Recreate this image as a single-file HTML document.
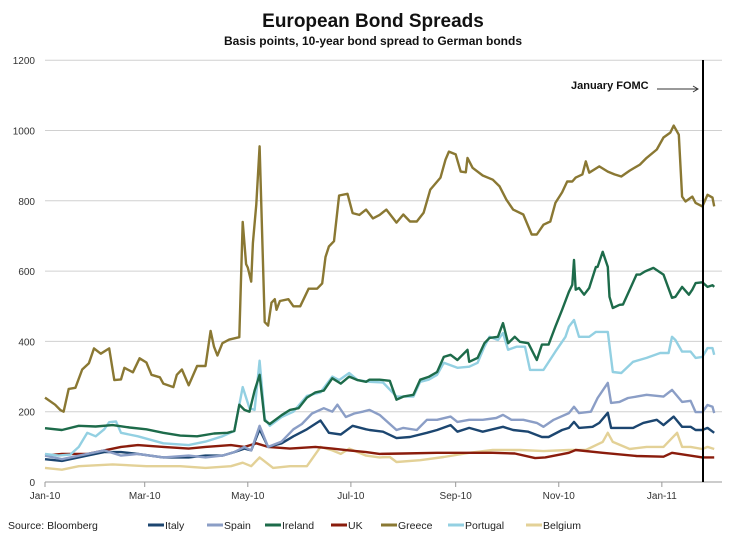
<!DOCTYPE html>
<html><head><meta charset="utf-8"><style>
html,body{margin:0;padding:0;background:#fff;}
svg{display:block;font-family:"Liberation Sans",sans-serif;}
</style></head><body>
<svg id="chart" width="747" height="543" viewBox="0 0 747 543">
<text x="373" y="27" text-anchor="middle" font-size="19" font-weight="bold" fill="#111">European Bond Spreads</text>
<text x="373" y="45" text-anchor="middle" font-size="12" font-weight="bold" fill="#111">Basis points, 10-year bond spread to German bonds</text>
<g id="grid"></g>
<g id="yticks"></g>
<g id="xticks"></g>
<g id="series"></g>
<line x1="703" y1="60" x2="703" y2="482" stroke="#000" stroke-width="2"/>
<text x="571" y="89" font-size="11" font-weight="bold" fill="#111">January FOMC</text>
<g><line x1="657" y1="89" x2="698" y2="89" stroke="#333" stroke-width="1"/><path d="M693,86 L698,89 L693,92" fill="none" stroke="#333" stroke-width="1"/></g>
<text x="8" y="529" font-size="10.5" fill="#222">Source: Bloomberg</text>
<g id="legend"></g>
</svg>
<script>
const yTicks=[0,200,400,600,800,1000,1200];
const xTickLabels=["Jan-10","Mar-10","May-10","Jul-10","Sep-10","Nov-10","Jan-11"];
const xTickDays=[0,59,120,181,243,304,365];

const greeceDays=[0,6,9,11,14,18,22,26,29,33,38,41,45,47,52,56,60,63,68,70,76,78,81,85,90,95,98,100,102,105,109,115,117,119,120,122,123,125,127,130,132,134,136,137,139,144,147,151,154,156,161,164,166,168,171,174,179,182,186,190,194,198,202,208,212,216,220,224,228,234,237,239,243,246,249,250,253,259,265,269,273,277,283,288,291,295,299,302,306,309,312,314,318,320,322,328,333,337,341,346,352,356,362,366,370,372,375,377,379,383,385,389,392,395,396];
const greeceVals=[240,220,205,200,265,268,320,338,380,365,380,290,292,325,312,352,340,305,298,280,270,305,320,275,330,330,430,385,360,395,405,412,740,620,610,570,680,790,955,455,445,510,520,490,515,520,500,500,530,550,550,565,640,670,685,815,820,765,760,775,750,760,775,738,761,741,741,766,832,866,917,940,932,883,881,922,894,872,860,841,803,775,761,704,704,732,741,794,824,855,855,866,875,912,880,898,883,875,869,886,903,922,946,980,994,1014,988,812,798,812,794,784,817,809,784];

const irelandDays=[0,10,20,30,40,50,60,70,80,90,100,108,112,115,118,121,124,127,130,133,140,145,150,155,160,165,170,175,180,185,190,192,198,204,208,212,218,222,227,232,236,240,244,250,251,256,260,263,268,271,274,278,281,286,291,294,298,302,306,310,312,313,314,316,319,322,326,327,330,333,334,336,340,342,346,350,352,355,360,366,371,373,377,381,383,385,389,392,395,396];
const irelandVals=[153,148,160,158,162,155,150,140,132,130,138,140,145,220,205,200,260,305,175,165,190,205,210,240,255,260,295,280,300,290,285,291,291,288,234,243,248,291,299,313,356,362,347,376,342,353,395,410,413,452,395,413,399,395,347,391,391,442,490,541,561,632,547,552,533,552,612,612,655,612,527,495,504,505,547,590,590,599,609,590,524,527,555,533,547,566,568,555,560,555];

const portugalDays=[0,8,15,20,25,30,35,38,42,45,55,70,85,95,105,112,117,121,124,127,130,133,140,147,155,163,170,174,180,185,192,200,208,218,222,227,232,236,244,251,256,260,263,268,271,274,279,284,287,291,295,302,308,310,313,316,322,326,333,336,341,348,356,364,369,371,373,377,382,385,389,392,395,396];
const portugalVals=[80,75,78,100,140,130,150,170,172,140,130,110,105,115,130,145,270,210,205,345,180,160,185,200,245,255,300,290,310,290,285,283,243,243,285,291,305,339,325,328,339,385,413,404,424,376,385,385,319,319,319,371,413,442,461,413,413,427,427,313,310,342,353,367,367,413,404,371,371,353,356,381,381,362];

const spainDays=[0,10,25,35,45,55,70,85,95,105,112,118,122,127,132,140,147,152,158,165,170,173,178,183,188,192,198,208,212,220,226,232,240,244,251,259,267,271,276,283,291,295,301,310,313,316,323,327,333,335,340,345,350,356,366,371,377,382,385,389,392,395,396];
const spainVals=[75,65,80,90,75,80,70,75,70,75,85,100,90,160,100,115,150,165,195,210,200,220,185,195,200,205,191,148,154,148,177,177,186,171,177,177,182,191,177,177,168,157,177,196,214,196,200,239,282,225,228,239,243,248,243,262,228,231,199,199,219,214,196];

const italyDays=[0,10,25,35,45,55,70,85,95,105,112,118,122,127,132,140,147,155,163,168,175,182,190,192,200,208,216,226,232,240,244,251,259,271,277,286,294,298,306,310,313,316,324,328,333,335,342,348,354,362,366,372,377,382,385,389,392,396];
const italyVals=[65,60,75,85,85,80,70,70,75,75,85,95,90,150,100,110,130,150,175,140,135,160,150,148,143,125,128,140,148,162,143,154,143,157,148,143,128,128,148,154,171,154,157,168,197,154,154,154,168,177,162,186,157,157,148,148,154,140];

const ukDays=[0,10,25,35,45,55,70,85,95,110,118,125,132,145,160,170,180,190,198,212,232,251,265,278,290,296,310,314,330,350,366,371,389,396];
const ukVals=[75,80,80,90,100,105,100,95,100,105,100,110,100,95,100,95,90,85,80,81,83,83,83,81,68,70,83,91,83,74,72,83,70,70];

const belgiumDays=[0,10,20,40,60,80,95,110,117,122,127,135,145,155,163,170,175,180,190,198,204,208,222,236,251,265,281,295,310,320,330,333,336,346,356,366,371,374,377,382,389,392,396];
const belgiumVals=[40,35,45,50,45,45,40,45,55,45,70,40,45,45,100,90,80,95,75,70,71,57,62,71,83,91,91,88,91,91,114,140,114,94,100,100,125,140,100,100,94,100,94];

const seriesNames=["Italy","Spain","Ireland","UK","Greece","Portugal","Belgium"];
const seriesColors=["#1c4670","#8b9ec6","#1d6b4a","#8a1c0c","#8a7833","#93d0e2","#e3d197"];
const seriesDays=[italyDays,spainDays,irelandDays,ukDays,greeceDays,portugalDays,belgiumDays];
const seriesVals=[italyVals,spainVals,irelandVals,ukVals,greeceVals,portugalVals,belgiumVals];
const drawOrder=[6,3,0,1,5,2,4];

const X0=45,PXD=1.69,Y0=482,PXV=0.3515;
function xs(d){return X0+d*PXD;}
function ys(v){return Y0-v*PXV;}
const NS="http://www.w3.org/2000/svg";
function mk(t,a){const e=document.createElementNS(NS,t);for(const k in a)e.setAttribute(k,a[k]);return e;}

const grid=document.getElementById('grid'),yt=document.getElementById('yticks'),xt=document.getElementById('xticks');
yTicks.forEach(v=>{
  if(v>0){const l=mk('line',{x1:45,x2:722,y1:ys(v),y2:ys(v),stroke:'#d0d0d0','stroke-width':1});
  
  
  grid.appendChild(l);}
  const t=mk('text',{x:35,y:ys(v)+4,'text-anchor':'end','font-size':10,fill:'#333'});
  t.textContent=v;
  
  
  yt.appendChild(t);
});
const ax=mk('line',{x1:45,x2:722,y1:482,y2:482,stroke:'#999','stroke-width':1});


xt.appendChild(ax);
xTickLabels.forEach((lab,i)=>{
  const x=xs(xTickDays[i]);
  const tk=mk('line',{x1:x,x2:x,y1:482,y2:487,stroke:'#999'});
  
  
  xt.appendChild(tk);
  const t=mk('text',{x:x,y:499,'text-anchor':'middle','font-size':10,fill:'#333'});
  t.textContent=lab;
  
  
  xt.appendChild(t);
});
const sg=document.getElementById('series');
drawOrder.forEach(i=>{
  const d=seriesDays[i].map((dd,j)=>(j?'L':'M')+xs(dd).toFixed(1)+','+ys(seriesVals[i][j]).toFixed(1)).join(' ');
  const p=mk('path',{d:d,fill:'none',stroke:seriesColors[i],'stroke-width':2.4,'stroke-linejoin':'round'});
  
  
  sg.appendChild(p);
});
const lg=document.getElementById('legend');
const legX=[148,207,265,331,381,448,526];
seriesNames.forEach((n,i)=>{
  const g=mk('g',{});
  
  
  g.appendChild(mk('line',{x1:legX[i],x2:legX[i]+16,y1:525,y2:525,stroke:seriesColors[i],'stroke-width':3}));
  const t=mk('text',{x:legX[i]+17,y:529,'font-size':10.5,fill:'#222'});
  t.textContent=n;
  g.appendChild(t);
  lg.appendChild(g);
});
</script>
</body></html>
